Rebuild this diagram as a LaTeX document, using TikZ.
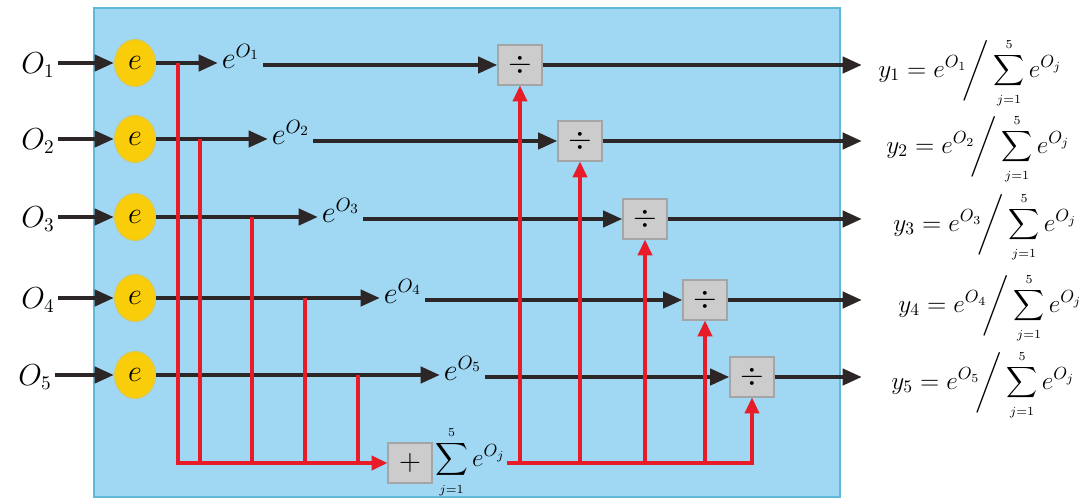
\documentclass[tikz,border=0pt]{standalone}
\usepackage{amsmath}
\usepackage{graphicx}
\usetikzlibrary{arrows.meta,shapes.geometric}
\definecolor{bgblue}{RGB}{160,215,242}
\definecolor{bgedge}{RGB}{95,185,215}
\definecolor{eyellow}{RGB}{250,205,10}
\definecolor{eedge}{RGB}{215,200,90}
\definecolor{boxgray}{RGB}{204,204,204}
\definecolor{boxedge}{RGB}{165,165,165}
\definecolor{darkline}{RGB}{45,38,38}
\definecolor{redline}{RGB}{232,28,40}
\newcommand{\smsum}[1]{\mathop{\vcenter{\hbox{\scalebox{#1}{$\displaystyle\sum$}}}}\limits_{\scriptscriptstyle j=1}^{\scriptscriptstyle 5}}
\tikzset{
  bigfont/.style={font=\fontsize{16}{19}\selectfont},
  eqfont/.style={font=\fontsize{14.5}{17}\selectfont},
  expnode/.style={ellipse,fill=eyellow,draw=eedge,line width=0.6pt,minimum width=0.82cm,minimum height=0.94cm,inner sep=0pt,bigfont},
  opbox/.style={rectangle,fill=boxgray,draw=boxedge,line width=0.6pt,minimum width=0.88cm,minimum height=0.8cm,inner sep=0pt,bigfont},
  lbl/.style={bigfont,inner sep=2pt},
  blk/.style={draw=darkline,line width=2.6pt,-{Triangle[length=11pt,width=9pt]}},
  redarr/.style={draw=redline,line width=2pt,-{Triangle[length=9pt,width=8pt]}},
  redln/.style={draw=redline,line width=2pt}
}
\begin{document}
\begin{tikzpicture}[x=0.02cm,y=-0.02cm]
\useasboundingbox (0,0) rectangle (1082,500);
\fill[bgblue,draw=bgedge,line width=0.8pt] (94,8) rectangle (840,497);

% rows
\foreach \i/\y/\lx/\dx/\bx/\ix/\ox in {1/63/240/520/178/38/878, 2/139/290/580/200/38/886, 3/217/340/645/252/38/893, 4/298/402/705/305/38/898, 5/375/462/752/358/35/891}{
  \node[lbl] (in\i) at (\ix,\y+2) {$O_{\i}$};
  \node[expnode] (e\i) at (135,\y) {$e$};
  \node[lbl,anchor=west] (x\i) at (\lx-22,\y-7) {$e^{O_{\i}}$};
  \node[opbox] (d\i) at (\dx,\y+2) {$\div$};
  \coordinate (o\i) at (862,\y);
  \coordinate (b\i) at (\bx,\y);
  \node[eqfont,anchor=west,inner sep=0pt] (y\i) at (\ox,\y+10) {$y_{\i}=e^{O_{\i}}\!\bigg/\smsum{0.85}e^{O_j}$};
  \draw[blk] (in\i.east |- e\i.west) -- (e\i.west);
  \draw[blk] (e\i.east) -- (e\i.east -| x\i.west);
  \draw[blk] (x\i.east |- d\i.west) -- (d\i.west);
  \draw[blk] (d\i.east) -- (o\i |- d\i.east);
}

% sum part
\node[opbox] (plus) at (410,463) {$+$};
\node[eqfont,anchor=west,inner sep=1pt] (sum) at (433,462) {$\smsum{0.9}e^{O_j}$};
\coordinate (busR) at (sum.east |- plus.west);

\draw[redarr] (b1) |- (plus.west);
\foreach \i in {2,3,4,5}{
  \draw[redln] (b\i) -- (b\i |- plus.west);
}
\draw[redarr] (busR) -| (d5.south);
\foreach \i in {1,2,3,4}{
  \draw[redarr] (d\i.south |- busR) -- (d\i.south);
}
\end{tikzpicture}
\end{document}
